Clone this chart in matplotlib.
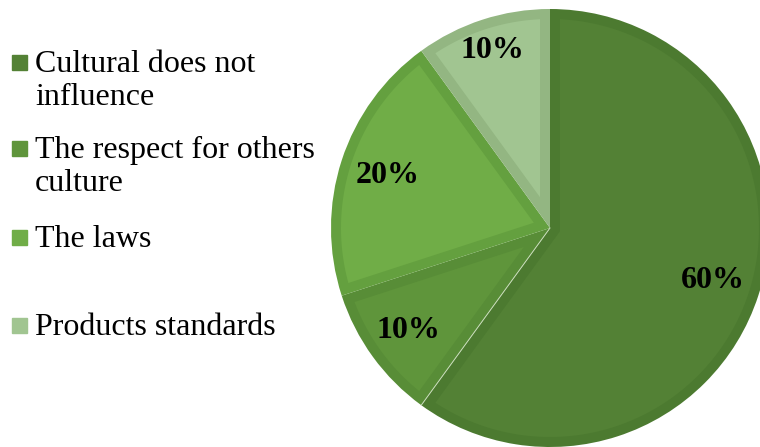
import numpy as np
import matplotlib
matplotlib.use('Agg')
import matplotlib.pyplot as plt
from matplotlib.patches import Rectangle, Polygon

plt.rcParams['font.family'] = ['Liberation Serif', 'DejaVu Serif']

#data
labels = ['Cultural does not\ninfluence', 'The respect for others\nculture',
          'The laws', 'Products standards']
shares = [60, 10, 20, 10]
fills = ['#538135', '#5f953b', '#70ad47', '#a1c591']
edges = ['#4c7a30', '#588d37', '#64a03f', '#93b682']

W, H = 760, 447
fig = plt.figure(figsize=(W/100, H/100), dpi=100)

#pie centre and radius in pixels
cx, cy, r = 550, 228, 219
ax = fig.add_axes([(cx-r)/W, (H-cy-r)/H, 2*r/W, 2*r/H])
wedges, _ = ax.pie(shares, colors=edges, startangle=90, counterclock=False,
                   radius=1, wedgeprops=dict(linewidth=0))
ax.set_xlim(-1, 1)
ax.set_ylim(-1, 1)
ax.axis('off')

#inner bevel: an inset copy of every wedge in the lighter fill colour
d = 10/r
for w, fc in zip(wedges, fills):
    t1, t2 = np.deg2rad(w.theta1), np.deg2rad(w.theta2)
    half = (t2 - t1)/2
    mid = (t1 + t2)/2
    apex = (d/np.sin(half))*np.array([np.cos(mid), np.sin(mid)])
    rho = 1 - d
    da = np.arcsin(d/rho)
    tt = np.linspace(t1 + da, t2 - da, 200)
    pts = np.vstack([apex, np.column_stack([rho*np.cos(tt), rho*np.sin(tt)])])
    ax.add_patch(Polygon(pts, closed=True, facecolor=fc, edgecolor='none'))

#thin light seam between the first two slices
tb = np.deg2rad(wedges[0].theta1)
ax.plot([0, np.cos(tb)], [0, np.sin(tb)], color='#c9dcbb', lw=0.7)

#percentage labels
dists = [0.78, 0.80, 0.78, 0.85]
for w, s, dd in zip(wedges, shares, dists):
    ang = np.deg2rad((w.theta1 + w.theta2)/2)
    ax.text(dd*np.cos(ang), dd*np.sin(ang), f'{s}%', ha='center', va='center',
            fontsize=23, fontweight='bold', color='black')

#legend drawn by hand, baselines in pixels
rows = [72, 158, 247, 335]
for lab, col, y in zip(labels, fills, rows):
    fig.patches.append(Rectangle((12/W, 1-(y-2)/H), 15/W, 15/H,
                                 transform=fig.transFigure, color=col))
    for i, line in enumerate(lab.split('\n')):
        fig.text(35/W, 1-(y + 33*i)/H, line, ha='left', va='baseline',
                 fontsize=23, color='black')

fig.savefig('out.png', dpi=100)
